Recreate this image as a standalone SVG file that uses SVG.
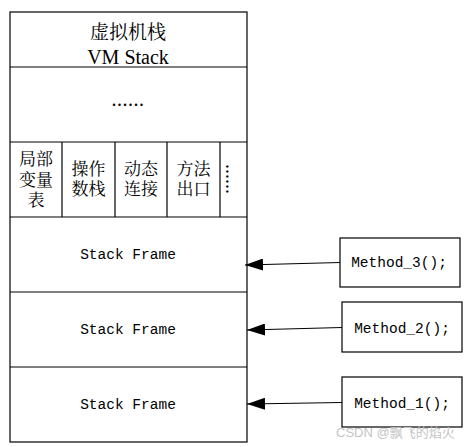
<svg xmlns="http://www.w3.org/2000/svg" width="471" height="447" viewBox="0 0 471 447">
<defs>
<style>
.box{fill:#fff;stroke:#000;stroke-width:1.2}
.ln{stroke:#000;stroke-width:1.2;fill:none}
.cjk{font-family:"Noto Serif CJK SC","Noto Sans CJK SC",serif;font-size:17px;fill:#000;text-anchor:middle}
.ser{font-family:"Liberation Serif",serif;font-size:20px;fill:#000;text-anchor:middle}
.mono{font-family:"Liberation Mono",monospace;font-size:14.5px;fill:#000;text-anchor:middle}
.wm{font-family:"Liberation Sans","Noto Sans CJK SC",sans-serif;font-size:13px;fill:#c4c4c4}
</style>
<marker id="ah" markerWidth="18" markerHeight="12" refX="18" refY="6" orient="auto" markerUnits="userSpaceOnUse">
<path d="M0,0 L18,6 L0,12 Z" fill="#000"/>
</marker>
</defs>
<rect width="471" height="447" fill="#fff"/>
<g id="vm-stack">
<rect class="box" x="10" y="12" width="237" height="430"/>
<line class="ln" x1="10" y1="67" x2="247" y2="67"/>
<line class="ln" x1="10" y1="142" x2="247" y2="142"/>
<line class="ln" x1="10" y1="217" x2="247" y2="217"/>
<line class="ln" x1="10" y1="292" x2="247" y2="292"/>
<line class="ln" x1="10" y1="367" x2="247" y2="367"/>
<line class="ln" x1="62" y1="142" x2="62" y2="217"/>
<line class="ln" x1="115" y1="142" x2="115" y2="217"/>
<line class="ln" x1="167" y1="142" x2="167" y2="217"/>
<line class="ln" x1="220" y1="142" x2="220" y2="217"/>
</g>
<g id="header">
<text class="cjk" x="128" y="39" style="font-size:19px">虚拟机栈<tspan class="ser" x="128" y="64" style="font-family:'Liberation Serif',serif;font-size:20px">VM Stack</tspan></text>
</g>
<g id="ellipsis">
<text class="ser" x="128" y="106" style="font-size:20px;letter-spacing:0.5px">......</text>
</g>
<g id="local-vars">
<text class="cjk" x="36" y="165">局部<tspan x="36" y="186">变量</tspan><tspan x="36" y="206">表</tspan></text>
</g>
<g id="operand-stack">
<text class="cjk" x="88.5" y="175">操作<tspan x="88.5" y="195">数栈</tspan></text>
</g>
<g id="dynamic-link">
<text class="cjk" x="141" y="175">动态<tspan x="141" y="195">连接</tspan></text>
</g>
<g id="return-addr">
<text class="cjk" x="193.5" y="175">方法<tspan x="193.5" y="195">出口</tspan></text>
</g>
<g id="more">
<text class="ser" x="0" y="0" transform="translate(226,179) rotate(90)" style="font-size:20px">......</text>
</g>
<g id="frame-3"><text class="mono" x="128" y="259">Stack Frame</text></g>
<g id="frame-2"><text class="mono" x="128" y="334">Stack Frame</text></g>
<g id="frame-1"><text class="mono" x="128" y="409">Stack Frame</text></g>
<g id="method-3">
<rect class="box" x="340" y="238" width="120" height="49"/>
<text class="mono" x="399" y="267">Method_3();</text>
</g>
<g id="method-2">
<rect class="box" x="342" y="302" width="120" height="50"/>
<text class="mono" x="402" y="333">Method_2();</text>
</g>
<g id="method-1">
<rect class="box" x="342" y="377" width="120" height="50"/>
<text class="mono" x="402" y="408">Method_1();</text>
</g>
<g id="connectors">
<line class="ln" x1="340" y1="262.5" x2="245" y2="265" marker-end="url(#ah)"/>
<line class="ln" x1="342" y1="327.5" x2="247" y2="330" marker-end="url(#ah)"/>
<line class="ln" x1="342" y1="402.5" x2="247" y2="404" marker-end="url(#ah)"/>
</g>
<text class="wm" x="336" y="437">CSDN @飘飞的焰火</text>
</svg>
